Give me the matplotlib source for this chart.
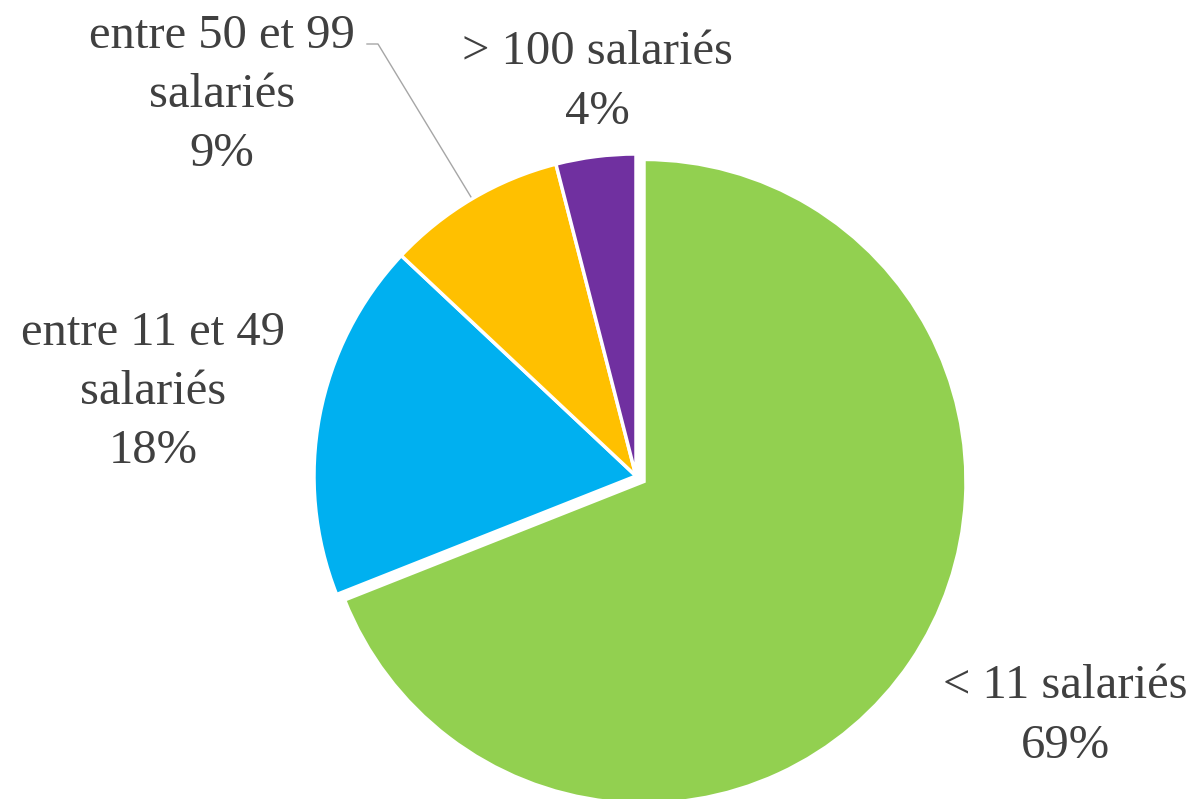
import numpy as np
import matplotlib.pyplot as plt

# Répartition des entreprises par taille
categories = ["< 11 salariés", "entre 11 et 49\nsalariés", "entre 50 et 99\nsalariés", "> 100 salariés"]
valeurs = [69, 18, 9, 4]
couleurs = ["#92D050", "#00B0F0", "#FFC000", "#7030A0"]

W, H = 1198, 799
fig = plt.figure(figsize=(W / 100, H / 100), dpi=100)
ax = fig.add_axes([0, 0, 1, 1])
ax.set_xlim(0, W)
ax.set_ylim(0, H)
ax.set_aspect("equal")
ax.axis("off")

cx, cy, r = 636, H - 476, 322
# la tranche verte est légèrement détachée (explode en unités absolues)
explode = [0.03 * r, 0, 0, 0]
wedges, _ = ax.pie(valeurs, colors=couleurs, explode=explode, startangle=90,
                   counterclock=False, center=(cx, cy), radius=r,
                   wedgeprops=dict(edgecolor="white", linewidth=2.5))
ax.set_xlim(0, W)
ax.set_ylim(0, H)

police = dict(family="Liberation Serif", fontsize=35, color="#404040",
              ha="center", va="center", linespacing=1.45)

# positions des étiquettes (en pixels depuis le haut)
pos_labels = [(1065, 716), (153, 392), (222, 95), (597, 82)]
for cat, v, (x, y) in zip(categories, valeurs, pos_labels):
    ax.text(x, H - y, f"{cat}\n{v}%", **police)

# trait de rappel pour la tranche 50-99
w = wedges[2]
a = np.deg2rad((w.theta1 + w.theta2) / 2)
px, py = cx + r * np.cos(a), cy + r * np.sin(a)
ax.plot([367, 378, px], [H - 44, H - 44, py], color="#A6A6A6", lw=1, zorder=0)

fig.savefig("out.png", dpi=100)
